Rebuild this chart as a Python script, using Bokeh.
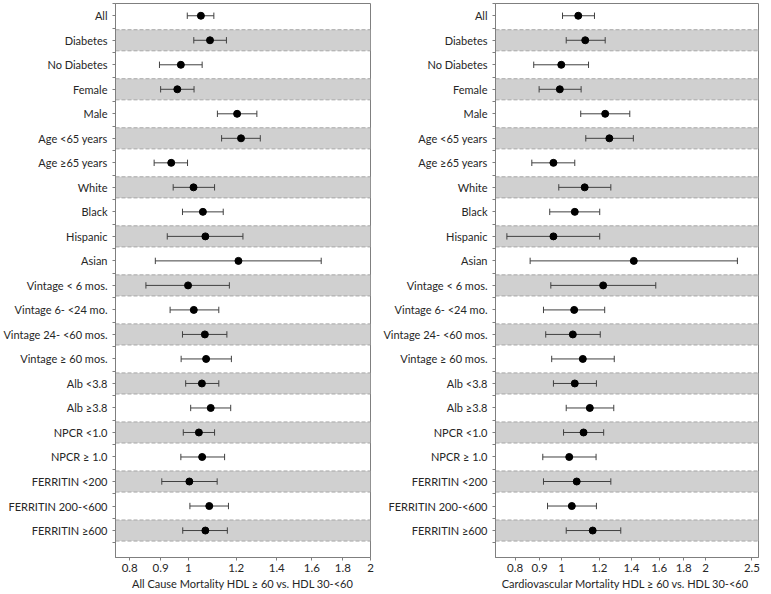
from bokeh.plotting import figure
from bokeh.layouts import row
from bokeh.models import Range1d, FixedTicker, ColumnDataSource
from bokeh.embed import file_html
from bokeh.resources import INLINE

categories = ["All", "Diabetes", "No Diabetes", "Female", "Male", "Age <65 years",
              "Age \u226565 years", "White", "Black", "Hispanic", "Asian",
              "Vintage < 6 mos.", "Vintage 6- <24 mo.", "Vintage 24- <60 mos.",
              "Vintage \u2265 60 mos.", "Alb <3.8", "Alb \u22653.8", "NPCR <1.0",
              "NPCR \u2265 1.0", "FERRITIN <200", "FERRITIN 200-<600", "FERRITIN \u2265600"]

# All cause mortality
ac_hr = [1.049, 1.086, 0.972, 0.959, 1.204, 1.222, 0.937, 1.020, 1.057, 1.067, 1.210,
         0.999, 1.021, 1.065, 1.070, 1.053, 1.089, 1.041, 1.054, 1.004, 1.083, 1.067]
ac_lo = [0.996, 1.021, 0.896, 0.900, 1.117, 1.135, 0.878, 0.944, 0.978, 0.923, 0.882,
         0.851, 0.933, 0.978, 0.973, 0.990, 1.009, 0.981, 0.972, 0.904, 1.006, 0.979]
ac_hi = [1.102, 1.156, 1.054, 1.022, 1.298, 1.315, 0.997, 1.105, 1.142, 1.231, 1.658,
         1.169, 1.123, 1.158, 1.178, 1.123, 1.175, 1.105, 1.148, 1.116, 1.165, 1.160]

# Cardiovascular mortality
cv_hr = [1.084, 1.121, 0.999, 0.992, 1.234, 1.259, 0.962, 1.118, 1.066, 0.962, 1.416,
         1.222, 1.063, 1.056, 1.108, 1.066, 1.146, 1.112, 1.038, 1.076, 1.051, 1.162]
cv_lo = [1.005, 1.023, 0.875, 0.898, 1.097, 1.124, 0.867, 0.987, 0.945, 0.769, 0.860,
         0.950, 0.917, 0.927, 0.954, 0.962, 1.023, 1.010, 0.914, 0.917, 0.935, 1.023]
cv_hi = [1.172, 1.234, 1.139, 1.099, 1.389, 1.413, 1.066, 1.268, 1.202, 1.202, 2.331,
         1.574, 1.231, 1.205, 1.289, 1.183, 1.286, 1.225, 1.181, 1.268, 1.183, 1.330]

ac_ticks = [0.8, 0.9, 1, 1.2, 1.4, 1.6, 1.8, 2]
cv_ticks = [0.8, 0.9, 1, 1.2, 1.4, 1.6, 1.8, 2, 2.5]

ac_title = "All Cause Mortality HDL \u2265 60 vs. HDL 30-<60"
cv_title = "Cardiovascular  Mortality HDL \u2265 60 vs. HDL 30-<60"

FONT = "Lato"
TXT = "#262626"
GRAY = "#7f7f7f"
BAR = "#404040"


def make_panel(hr, lo, hi, ticks, xr, title, width, bl, br):
    n = len(categories)
    ys = list(range(n))
    p = figure(width=width, height=592, x_axis_type="log",
               x_range=Range1d(*xr), y_range=Range1d(22.1, -0.5),
               output_backend="svg", toolbar_location=None,
               min_border_left=bl, min_border_right=br,
               min_border_top=3, min_border_bottom=35)
    p.xgrid.visible = False
    p.ygrid.visible = False
    p.outline_line_color = GRAY
    p.background_fill_color = "white"

    band_y = [y for y in ys if y % 2 == 1]
    h = 0.43
    p.hbar(y=band_y, left=xr[0], right=xr[1], height=2 * h,
           fill_color="#d0d0d0", line_color=None)
    for sgn in (-1, 1):
        p.segment(x0=[xr[0]] * len(band_y), x1=[xr[1]] * len(band_y),
                  y0=[y + sgn * h for y in band_y], y1=[y + sgn * h for y in band_y],
                  line_color="#a6a6a6", line_dash="4 2", line_width=1)

    src = ColumnDataSource(dict(y=ys, hr=hr, lo=lo, hi=hi,
                                yt=[y - 0.13 for y in ys], yb=[y + 0.13 for y in ys]))
    p.segment(x0="lo", x1="hi", y0="y", y1="y", source=src, line_color=BAR, line_width=1)
    p.segment(x0="lo", x1="lo", y0="yt", y1="yb", source=src, line_color=BAR, line_width=1)
    p.segment(x0="hi", x1="hi", y0="yt", y1="yb", source=src, line_color=BAR, line_width=1)
    p.scatter(x="hr", y="y", source=src, size=7, fill_color="black", line_color="black")

    xa = p.xaxis[0]
    xa.ticker = FixedTicker(ticks=ticks, minor_ticks=[])
    xa.major_label_overrides = {t: str(t) for t in ticks}
    xa.axis_label = title
    xa.axis_label_text_font = FONT
    xa.axis_label_text_font_style = "normal"
    xa.axis_label_text_font_size = "11px"
    xa.axis_label_text_color = TXT
    xa.axis_label_standoff = 2
    xa.major_label_standoff = 3
    xa.major_label_text_font = FONT
    xa.major_label_text_font_size = "11.5px"
    xa.major_label_text_color = TXT
    xa.axis_line_color = GRAY
    xa.major_tick_line_color = GRAY
    xa.major_tick_in = 0
    xa.major_tick_out = 3

    ya = p.yaxis[0]
    ya.ticker = FixedTicker(ticks=ys, minor_ticks=[y + 0.5 for y in range(-1, n)])
    ya.major_label_overrides = {y: c for y, c in zip(ys, categories)}
    ya.major_label_text_font = FONT
    ya.major_label_text_font_size = "11px"
    ya.major_label_text_color = TXT
    ya.axis_line_color = GRAY
    ya.major_tick_line_color = GRAY
    ya.minor_tick_line_color = GRAY
    ya.major_tick_in = 0
    ya.major_tick_out = 3
    ya.minor_tick_in = 0
    ya.minor_tick_out = 3
    ya.major_label_standoff = 5
    return p


p1 = make_panel(ac_hr, ac_lo, ac_hi, ac_ticks, (0.758, 2.0), ac_title, 379, 107, 9)
p2 = make_panel(cv_hr, cv_lo, cv_hi, cv_ticks, (0.728, 2.58), cv_title, 382, 116, 3)

layout = row(p1, p2)
open("out.html", "w").write(file_html(layout, INLINE))
